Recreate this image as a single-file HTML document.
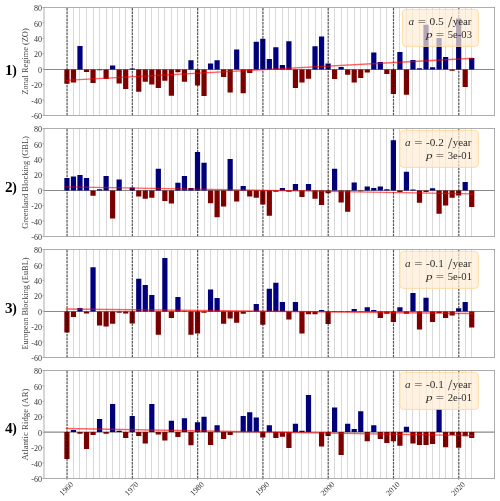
<!DOCTYPE html><html><head><meta charset="utf-8"><style>html,body{margin:0;padding:0;background:#fff;width:500px;height:501px;overflow:hidden}svg{display:block;will-change:transform}text{font-family:"Liberation Serif",serif}</style></head><body>
<svg width="500" height="501" viewBox="0 0 500 501">
<line x1="44.0" y1="69.45" x2="494.6" y2="69.45" stroke="#8a8a8a" stroke-width="1.1"/>
<path d="M77.38 46.10h5.22V69.45h-5.22ZM110.02 65.50h5.22V69.45h-5.22ZM129.61 68.45h5.22V69.45h-5.22ZM188.37 60.30h5.22V69.45h-5.22ZM207.96 63.40h5.22V69.45h-5.22ZM214.49 60.30h5.22V69.45h-5.22ZM234.07 49.40h5.22V69.45h-5.22ZM253.66 41.80h5.22V69.45h-5.22ZM260.19 38.80h5.22V69.45h-5.22ZM266.72 58.90h5.22V69.45h-5.22ZM273.25 47.20h5.22V69.45h-5.22ZM279.78 65.00h5.22V69.45h-5.22ZM286.30 41.30h5.22V69.45h-5.22ZM312.42 46.30h5.22V69.45h-5.22ZM318.95 36.40h5.22V69.45h-5.22ZM325.48 63.40h5.22V69.45h-5.22ZM338.54 67.00h5.22V69.45h-5.22ZM371.18 52.60h5.22V69.45h-5.22ZM377.71 61.90h5.22V69.45h-5.22ZM397.30 51.90h5.22V69.45h-5.22ZM410.36 60.10h5.22V69.45h-5.22ZM416.88 68.35h5.22V69.45h-5.22ZM423.41 24.80h5.22V69.45h-5.22ZM429.94 67.30h5.22V69.45h-5.22ZM436.47 38.10h5.22V69.45h-5.22ZM443.00 57.10h5.22V69.45h-5.22ZM456.06 18.60h5.22V69.45h-5.22ZM469.12 57.90h5.22V69.45h-5.22Z" fill="#000080"/>
<path d="M64.32 69.45h5.22V83.80h-5.22ZM70.85 69.45h5.22V82.40h-5.22ZM83.91 69.45h5.22V72.10h-5.22ZM90.43 69.45h5.22V82.90h-5.22ZM96.96 69.45h5.22V70.15h-5.22ZM103.49 69.45h5.22V79.00h-5.22ZM116.55 69.45h5.22V83.60h-5.22ZM123.08 69.45h5.22V89.10h-5.22ZM136.14 69.45h5.22V91.70h-5.22ZM142.67 69.45h5.22V81.70h-5.22ZM149.20 69.45h5.22V84.50h-5.22ZM155.72 69.45h5.22V88.00h-5.22ZM162.25 69.45h5.22V80.80h-5.22ZM168.78 69.45h5.22V95.70h-5.22ZM175.31 69.45h5.22V72.30h-5.22ZM181.84 69.45h5.22V81.70h-5.22ZM194.90 69.45h5.22V85.40h-5.22ZM201.43 69.45h5.22V96.00h-5.22ZM221.01 69.45h5.22V77.00h-5.22ZM227.54 69.45h5.22V92.40h-5.22ZM240.60 69.45h5.22V93.20h-5.22ZM247.13 69.45h5.22V72.90h-5.22ZM292.83 69.45h5.22V88.10h-5.22ZM299.36 69.45h5.22V82.60h-5.22ZM305.89 69.45h5.22V78.80h-5.22ZM332.01 69.45h5.22V79.10h-5.22ZM345.07 69.45h5.22V74.80h-5.22ZM351.59 69.45h5.22V82.60h-5.22ZM358.12 69.45h5.22V78.10h-5.22ZM364.65 69.45h5.22V72.50h-5.22ZM384.24 69.45h5.22V73.90h-5.22ZM390.77 69.45h5.22V93.90h-5.22ZM403.83 69.45h5.22V94.80h-5.22ZM449.53 69.45h5.22V70.80h-5.22ZM462.59 69.45h5.22V86.90h-5.22Z" fill="#800000"/>
<path d="M73.50 7.50V115.50M79.50 7.50V115.50M86.50 7.50V115.50M93.50 7.50V115.50M99.50 7.50V115.50M106.50 7.50V115.50M112.50 7.50V115.50M119.50 7.50V115.50M125.50 7.50V115.50M138.50 7.50V115.50M145.50 7.50V115.50M151.50 7.50V115.50M158.50 7.50V115.50M164.50 7.50V115.50M171.50 7.50V115.50M177.50 7.50V115.50M184.50 7.50V115.50M190.50 7.50V115.50M204.50 7.50V115.50M210.50 7.50V115.50M217.50 7.50V115.50M223.50 7.50V115.50M230.50 7.50V115.50M236.50 7.50V115.50M243.50 7.50V115.50M249.50 7.50V115.50M256.50 7.50V115.50M269.50 7.50V115.50M275.50 7.50V115.50M282.50 7.50V115.50M288.50 7.50V115.50M295.50 7.50V115.50M301.50 7.50V115.50M308.50 7.50V115.50M315.50 7.50V115.50M321.50 7.50V115.50M334.50 7.50V115.50M341.50 7.50V115.50M347.50 7.50V115.50M354.50 7.50V115.50M360.50 7.50V115.50M367.50 7.50V115.50M373.50 7.50V115.50M380.50 7.50V115.50M386.50 7.50V115.50M399.50 7.50V115.50M406.50 7.50V115.50M412.50 7.50V115.50M419.50 7.50V115.50M426.50 7.50V115.50M432.50 7.50V115.50M439.50 7.50V115.50M445.50 7.50V115.50M452.50 7.50V115.50M465.50 7.50V115.50M471.50 7.50V115.50" stroke="#000" stroke-opacity="0.15" stroke-width="1" fill="none"/>
<path d="M67.05 115.50V7.50M132.34 115.50V7.50M197.63 115.50V7.50M262.92 115.50V7.50M328.21 115.50V7.50M393.50 115.50V7.50M458.79 115.50V7.50" stroke="#000" stroke-opacity="0.12" stroke-width="1.1" fill="none"/>
<path d="M67.05 115.50V7.50M132.34 115.50V7.50M197.63 115.50V7.50M262.92 115.50V7.50M328.21 115.50V7.50M393.50 115.50V7.50M458.79 115.50V7.50" stroke="#000" stroke-opacity="0.62" stroke-width="1.2" stroke-dasharray="2.45 1.05" fill="none"/>
<line x1="65.63" y1="80.37" x2="473.03" y2="58.23" stroke="#ff0000" stroke-opacity="0.62" stroke-width="1.35"/>
<rect x="44.0" y="7.5" width="450.60" height="108.0" fill="none" stroke="#999" stroke-width="0.8"/>
<line x1="42.5" y1="7.50" x2="44.0" y2="7.50" stroke="#999" stroke-width="0.8"/>
<text x="41.9" y="11.10" font-size="8" fill="#333" text-anchor="end">80</text>
<line x1="42.5" y1="22.93" x2="44.0" y2="22.93" stroke="#999" stroke-width="0.8"/>
<text x="41.9" y="26.53" font-size="8" fill="#333" text-anchor="end">60</text>
<line x1="42.5" y1="38.36" x2="44.0" y2="38.36" stroke="#999" stroke-width="0.8"/>
<text x="41.9" y="41.96" font-size="8" fill="#333" text-anchor="end">40</text>
<line x1="42.5" y1="53.79" x2="44.0" y2="53.79" stroke="#999" stroke-width="0.8"/>
<text x="41.9" y="57.39" font-size="8" fill="#333" text-anchor="end">20</text>
<line x1="42.5" y1="69.21" x2="44.0" y2="69.21" stroke="#999" stroke-width="0.8"/>
<text x="41.9" y="72.81" font-size="8" fill="#333" text-anchor="end">0</text>
<line x1="42.5" y1="84.64" x2="44.0" y2="84.64" stroke="#999" stroke-width="0.8"/>
<text x="41.9" y="88.24" font-size="8" fill="#333" text-anchor="end">-20</text>
<line x1="42.5" y1="100.07" x2="44.0" y2="100.07" stroke="#999" stroke-width="0.8"/>
<text x="41.9" y="103.67" font-size="8" fill="#333" text-anchor="end">-40</text>
<line x1="42.5" y1="115.50" x2="44.0" y2="115.50" stroke="#999" stroke-width="0.8"/>
<text x="41.9" y="119.10" font-size="8" fill="#333" text-anchor="end">-60</text>
<text transform="translate(28.4 61.50) rotate(-90)" font-size="8.4" fill="#444" text-anchor="middle" textLength="66.3" lengthAdjust="spacingAndGlyphs">Zonal Regime (ZO)</text>
<text x="5.0" y="75.00" font-size="13.6" font-weight="bold" fill="#000" transform="translate(5 0) scale(1.12 1) translate(-5 0)">1</text>
<text x="12.2" y="75.00" font-size="13.6" font-weight="bold" fill="#000">)</text>
<rect x="402.4" y="9.40" width="76.00" height="37" rx="3.6" ry="3.6" fill="rgb(255,236,211)" fill-opacity="0.7" stroke="rgb(255,214,150)" stroke-opacity="0.8" stroke-width="1"/>
<text x="408.40" y="25.10" font-size="10.8" fill="#2e2e2e" font-style="italic" textLength="5.6" lengthAdjust="spacingAndGlyphs">a</text>
<text x="417.80" y="25.10" font-size="10.8" fill="#2e2e2e" textLength="8.3" lengthAdjust="spacingAndGlyphs">=</text>
<text x="429.50" y="25.10" font-size="10.8" fill="#2e2e2e" textLength="14.3" lengthAdjust="spacingAndGlyphs">0.5</text>
<text x="452.70" y="25.10" font-size="10.8" fill="#2e2e2e" textLength="18.8" lengthAdjust="spacingAndGlyphs">year</text>
<text x="425.90" y="37.80" font-size="10.8" fill="#2e2e2e" font-style="italic" textLength="6.6" lengthAdjust="spacingAndGlyphs">p</text>
<text x="435.80" y="37.80" font-size="10.8" fill="#2e2e2e" textLength="8.3" lengthAdjust="spacingAndGlyphs">=</text>
<text x="447.80" y="37.80" font-size="10.8" fill="#2e2e2e" textLength="24.2" lengthAdjust="spacingAndGlyphs">5e-03</text>
<path d="M448.35 27.40L451.75 16.80" stroke="#333" stroke-width="0.8" fill="none"/>
<line x1="44.0" y1="190.45" x2="494.6" y2="190.45" stroke="#8a8a8a" stroke-width="1.1"/>
<path d="M64.32 178.10h5.22V190.45h-5.22ZM70.85 176.60h5.22V190.45h-5.22ZM77.38 175.00h5.22V190.45h-5.22ZM83.91 178.10h5.22V190.45h-5.22ZM96.96 189.15h5.22V190.45h-5.22ZM103.49 175.90h5.22V190.45h-5.22ZM116.55 179.50h5.22V190.45h-5.22ZM123.08 190.45h5.22V190.45h-5.22ZM129.61 187.60h5.22V190.45h-5.22ZM155.72 168.70h5.22V190.45h-5.22ZM175.31 182.70h5.22V190.45h-5.22ZM181.84 175.90h5.22V190.45h-5.22ZM188.37 188.10h5.22V190.45h-5.22ZM194.90 152.00h5.22V190.45h-5.22ZM201.43 162.80h5.22V190.45h-5.22ZM227.54 158.90h5.22V190.45h-5.22ZM240.60 186.00h5.22V190.45h-5.22ZM279.78 187.90h5.22V190.45h-5.22ZM292.83 184.00h5.22V190.45h-5.22ZM305.89 184.00h5.22V190.45h-5.22ZM332.01 168.70h5.22V190.45h-5.22ZM351.59 182.60h5.22V190.45h-5.22ZM364.65 186.50h5.22V190.45h-5.22ZM371.18 187.90h5.22V190.45h-5.22ZM377.71 186.50h5.22V190.45h-5.22ZM384.24 189.15h5.22V190.45h-5.22ZM390.77 140.20h5.22V190.45h-5.22ZM403.83 171.80h5.22V190.45h-5.22ZM410.36 189.55h5.22V190.45h-5.22ZM429.94 188.30h5.22V190.45h-5.22ZM462.59 182.10h5.22V190.45h-5.22Z" fill="#000080"/>
<path d="M90.43 190.45h5.22V195.70h-5.22ZM110.02 190.45h5.22V218.60h-5.22ZM136.14 190.45h5.22V196.40h-5.22ZM142.67 190.45h5.22V198.70h-5.22ZM149.20 190.45h5.22V197.80h-5.22ZM162.25 190.45h5.22V200.90h-5.22ZM168.78 190.45h5.22V203.40h-5.22ZM207.96 190.45h5.22V203.20h-5.22ZM214.49 190.45h5.22V217.20h-5.22ZM221.01 190.45h5.22V206.40h-5.22ZM234.07 190.45h5.22V201.60h-5.22ZM247.13 190.45h5.22V196.60h-5.22ZM253.66 190.45h5.22V197.80h-5.22ZM260.19 190.45h5.22V204.60h-5.22ZM266.72 190.45h5.22V215.80h-5.22ZM273.25 190.45h5.22V191.85h-5.22ZM286.30 190.45h5.22V191.85h-5.22ZM299.36 190.45h5.22V197.10h-5.22ZM312.42 190.45h5.22V198.70h-5.22ZM318.95 190.45h5.22V205.00h-5.22ZM325.48 190.45h5.22V193.20h-5.22ZM338.54 190.45h5.22V202.50h-5.22ZM345.07 190.45h5.22V211.80h-5.22ZM358.12 190.45h5.22V191.35h-5.22ZM397.30 190.45h5.22V191.90h-5.22ZM416.88 190.45h5.22V202.70h-5.22ZM423.41 190.45h5.22V191.90h-5.22ZM436.47 190.45h5.22V213.80h-5.22ZM443.00 190.45h5.22V205.50h-5.22ZM449.53 190.45h5.22V197.80h-5.22ZM456.06 190.45h5.22V195.50h-5.22ZM469.12 190.45h5.22V206.90h-5.22Z" fill="#800000"/>
<path d="M73.50 128.50V236.50M79.50 128.50V236.50M86.50 128.50V236.50M93.50 128.50V236.50M99.50 128.50V236.50M106.50 128.50V236.50M112.50 128.50V236.50M119.50 128.50V236.50M125.50 128.50V236.50M138.50 128.50V236.50M145.50 128.50V236.50M151.50 128.50V236.50M158.50 128.50V236.50M164.50 128.50V236.50M171.50 128.50V236.50M177.50 128.50V236.50M184.50 128.50V236.50M190.50 128.50V236.50M204.50 128.50V236.50M210.50 128.50V236.50M217.50 128.50V236.50M223.50 128.50V236.50M230.50 128.50V236.50M236.50 128.50V236.50M243.50 128.50V236.50M249.50 128.50V236.50M256.50 128.50V236.50M269.50 128.50V236.50M275.50 128.50V236.50M282.50 128.50V236.50M288.50 128.50V236.50M295.50 128.50V236.50M301.50 128.50V236.50M308.50 128.50V236.50M315.50 128.50V236.50M321.50 128.50V236.50M334.50 128.50V236.50M341.50 128.50V236.50M347.50 128.50V236.50M354.50 128.50V236.50M360.50 128.50V236.50M367.50 128.50V236.50M373.50 128.50V236.50M380.50 128.50V236.50M386.50 128.50V236.50M399.50 128.50V236.50M406.50 128.50V236.50M412.50 128.50V236.50M419.50 128.50V236.50M426.50 128.50V236.50M432.50 128.50V236.50M439.50 128.50V236.50M445.50 128.50V236.50M452.50 128.50V236.50M465.50 128.50V236.50M471.50 128.50V236.50" stroke="#000" stroke-opacity="0.15" stroke-width="1" fill="none"/>
<path d="M67.05 236.50V128.50M132.34 236.50V128.50M197.63 236.50V128.50M262.92 236.50V128.50M328.21 236.50V128.50M393.50 236.50V128.50M458.79 236.50V128.50" stroke="#000" stroke-opacity="0.12" stroke-width="1.1" fill="none"/>
<path d="M67.05 236.50V128.50M132.34 236.50V128.50M197.63 236.50V128.50M262.92 236.50V128.50M328.21 236.50V128.50M393.50 236.50V128.50M458.79 236.50V128.50" stroke="#000" stroke-opacity="0.62" stroke-width="1.2" stroke-dasharray="2.45 1.05" fill="none"/>
<line x1="65.63" y1="186.93" x2="473.03" y2="193.82" stroke="#ff0000" stroke-opacity="0.62" stroke-width="1.35"/>
<rect x="44.0" y="128.5" width="450.60" height="108.0" fill="none" stroke="#999" stroke-width="0.8"/>
<line x1="42.5" y1="128.50" x2="44.0" y2="128.50" stroke="#999" stroke-width="0.8"/>
<text x="41.9" y="132.10" font-size="8" fill="#333" text-anchor="end">80</text>
<line x1="42.5" y1="143.93" x2="44.0" y2="143.93" stroke="#999" stroke-width="0.8"/>
<text x="41.9" y="147.53" font-size="8" fill="#333" text-anchor="end">60</text>
<line x1="42.5" y1="159.36" x2="44.0" y2="159.36" stroke="#999" stroke-width="0.8"/>
<text x="41.9" y="162.96" font-size="8" fill="#333" text-anchor="end">40</text>
<line x1="42.5" y1="174.79" x2="44.0" y2="174.79" stroke="#999" stroke-width="0.8"/>
<text x="41.9" y="178.39" font-size="8" fill="#333" text-anchor="end">20</text>
<line x1="42.5" y1="190.21" x2="44.0" y2="190.21" stroke="#999" stroke-width="0.8"/>
<text x="41.9" y="193.81" font-size="8" fill="#333" text-anchor="end">0</text>
<line x1="42.5" y1="205.64" x2="44.0" y2="205.64" stroke="#999" stroke-width="0.8"/>
<text x="41.9" y="209.24" font-size="8" fill="#333" text-anchor="end">-20</text>
<line x1="42.5" y1="221.07" x2="44.0" y2="221.07" stroke="#999" stroke-width="0.8"/>
<text x="41.9" y="224.67" font-size="8" fill="#333" text-anchor="end">-40</text>
<line x1="42.5" y1="236.50" x2="44.0" y2="236.50" stroke="#999" stroke-width="0.8"/>
<text x="41.9" y="240.10" font-size="8" fill="#333" text-anchor="end">-60</text>
<text transform="translate(28.4 182.50) rotate(-90)" font-size="8.4" fill="#444" text-anchor="middle" textLength="92.7" lengthAdjust="spacingAndGlyphs">Greenland Blocking (GBL)</text>
<text x="5.0" y="191.80" font-size="13.6" font-weight="bold" fill="#000" transform="translate(5 0) scale(1.12 1) translate(-5 0)">2</text>
<text x="12.2" y="191.80" font-size="13.6" font-weight="bold" fill="#000">)</text>
<rect x="399.9" y="130.40" width="78.50" height="37" rx="3.6" ry="3.6" fill="rgb(255,236,211)" fill-opacity="0.7" stroke="rgb(255,214,150)" stroke-opacity="0.8" stroke-width="1"/>
<text x="404.90" y="146.10" font-size="10.8" fill="#2e2e2e" font-style="italic" textLength="5.6" lengthAdjust="spacingAndGlyphs">a</text>
<text x="414.30" y="146.10" font-size="10.8" fill="#2e2e2e" textLength="8.3" lengthAdjust="spacingAndGlyphs">=</text>
<text x="426.00" y="146.10" font-size="10.8" fill="#2e2e2e" textLength="17.8" lengthAdjust="spacingAndGlyphs">-0.2</text>
<text x="452.70" y="146.10" font-size="10.8" fill="#2e2e2e" textLength="18.8" lengthAdjust="spacingAndGlyphs">year</text>
<text x="425.90" y="158.80" font-size="10.8" fill="#2e2e2e" font-style="italic" textLength="6.6" lengthAdjust="spacingAndGlyphs">p</text>
<text x="435.80" y="158.80" font-size="10.8" fill="#2e2e2e" textLength="8.3" lengthAdjust="spacingAndGlyphs">=</text>
<text x="447.80" y="158.80" font-size="10.8" fill="#2e2e2e" textLength="24.2" lengthAdjust="spacingAndGlyphs">3e-01</text>
<path d="M448.35 148.40L451.75 137.80" stroke="#333" stroke-width="0.8" fill="none"/>
<line x1="44.0" y1="311.45" x2="494.6" y2="311.45" stroke="#8a8a8a" stroke-width="1.1"/>
<path d="M77.38 308.00h5.22V311.45h-5.22ZM90.43 267.30h5.22V311.45h-5.22ZM136.14 278.80h5.22V311.45h-5.22ZM142.67 285.10h5.22V311.45h-5.22ZM149.20 294.90h5.22V311.45h-5.22ZM162.25 258.10h5.22V311.45h-5.22ZM175.31 297.10h5.22V311.45h-5.22ZM207.96 289.60h5.22V311.45h-5.22ZM214.49 298.00h5.22V311.45h-5.22ZM253.66 303.90h5.22V311.45h-5.22ZM266.72 288.80h5.22V311.45h-5.22ZM273.25 282.70h5.22V311.45h-5.22ZM279.78 301.90h5.22V311.45h-5.22ZM292.83 301.90h5.22V311.45h-5.22ZM318.95 310.05h5.22V311.45h-5.22ZM351.59 308.90h5.22V311.45h-5.22ZM364.65 307.20h5.22V311.45h-5.22ZM371.18 310.05h5.22V311.45h-5.22ZM397.30 307.20h5.22V311.45h-5.22ZM410.36 293.10h5.22V311.45h-5.22ZM423.41 297.80h5.22V311.45h-5.22ZM456.06 308.30h5.22V311.45h-5.22ZM462.59 302.10h5.22V311.45h-5.22Z" fill="#000080"/>
<path d="M64.32 311.45h5.22V332.60h-5.22ZM70.85 311.45h5.22V317.00h-5.22ZM83.91 311.45h5.22V313.40h-5.22ZM96.96 311.45h5.22V325.60h-5.22ZM103.49 311.45h5.22V326.50h-5.22ZM110.02 311.45h5.22V323.80h-5.22ZM116.55 311.45h5.22V312.85h-5.22ZM123.08 311.45h5.22V313.40h-5.22ZM129.61 311.45h5.22V323.40h-5.22ZM155.72 311.45h5.22V334.80h-5.22ZM168.78 311.45h5.22V317.90h-5.22ZM181.84 311.45h5.22V311.95h-5.22ZM188.37 311.45h5.22V334.80h-5.22ZM194.90 311.45h5.22V333.50h-5.22ZM201.43 311.45h5.22V312.85h-5.22ZM221.01 311.45h5.22V323.80h-5.22ZM227.54 311.45h5.22V318.60h-5.22ZM234.07 311.45h5.22V322.80h-5.22ZM240.60 311.45h5.22V313.80h-5.22ZM247.13 311.45h5.22V311.95h-5.22ZM260.19 311.45h5.22V324.70h-5.22ZM286.30 311.45h5.22V319.50h-5.22ZM299.36 311.45h5.22V333.50h-5.22ZM305.89 311.45h5.22V314.20h-5.22ZM312.42 311.45h5.22V314.20h-5.22ZM325.48 311.45h5.22V324.00h-5.22ZM332.01 311.45h5.22V311.95h-5.22ZM338.54 311.45h5.22V311.95h-5.22ZM345.07 311.45h5.22V311.95h-5.22ZM358.12 311.45h5.22V311.75h-5.22ZM377.71 311.45h5.22V317.90h-5.22ZM384.24 311.45h5.22V313.80h-5.22ZM390.77 311.45h5.22V321.90h-5.22ZM403.83 311.45h5.22V313.80h-5.22ZM416.88 311.45h5.22V329.40h-5.22ZM429.94 311.45h5.22V321.90h-5.22ZM436.47 311.45h5.22V312.90h-5.22ZM443.00 311.45h5.22V317.90h-5.22ZM449.53 311.45h5.22V315.60h-5.22ZM469.12 311.45h5.22V327.50h-5.22Z" fill="#800000"/>
<path d="M73.50 249.50V357.50M79.50 249.50V357.50M86.50 249.50V357.50M93.50 249.50V357.50M99.50 249.50V357.50M106.50 249.50V357.50M112.50 249.50V357.50M119.50 249.50V357.50M125.50 249.50V357.50M138.50 249.50V357.50M145.50 249.50V357.50M151.50 249.50V357.50M158.50 249.50V357.50M164.50 249.50V357.50M171.50 249.50V357.50M177.50 249.50V357.50M184.50 249.50V357.50M190.50 249.50V357.50M204.50 249.50V357.50M210.50 249.50V357.50M217.50 249.50V357.50M223.50 249.50V357.50M230.50 249.50V357.50M236.50 249.50V357.50M243.50 249.50V357.50M249.50 249.50V357.50M256.50 249.50V357.50M269.50 249.50V357.50M275.50 249.50V357.50M282.50 249.50V357.50M288.50 249.50V357.50M295.50 249.50V357.50M301.50 249.50V357.50M308.50 249.50V357.50M315.50 249.50V357.50M321.50 249.50V357.50M334.50 249.50V357.50M341.50 249.50V357.50M347.50 249.50V357.50M354.50 249.50V357.50M360.50 249.50V357.50M367.50 249.50V357.50M373.50 249.50V357.50M380.50 249.50V357.50M386.50 249.50V357.50M399.50 249.50V357.50M406.50 249.50V357.50M412.50 249.50V357.50M419.50 249.50V357.50M426.50 249.50V357.50M432.50 249.50V357.50M439.50 249.50V357.50M445.50 249.50V357.50M452.50 249.50V357.50M465.50 249.50V357.50M471.50 249.50V357.50" stroke="#000" stroke-opacity="0.15" stroke-width="1" fill="none"/>
<path d="M67.05 357.50V249.50M132.34 357.50V249.50M197.63 357.50V249.50M262.92 357.50V249.50M328.21 357.50V249.50M393.50 357.50V249.50M458.79 357.50V249.50" stroke="#000" stroke-opacity="0.12" stroke-width="1.1" fill="none"/>
<path d="M67.05 357.50V249.50M132.34 357.50V249.50M197.63 357.50V249.50M262.92 357.50V249.50M328.21 357.50V249.50M393.50 357.50V249.50M458.79 357.50V249.50" stroke="#000" stroke-opacity="0.62" stroke-width="1.2" stroke-dasharray="2.45 1.05" fill="none"/>
<line x1="65.63" y1="308.99" x2="473.03" y2="313.51" stroke="#ff0000" stroke-opacity="0.62" stroke-width="1.35"/>
<rect x="44.0" y="249.5" width="450.60" height="108.0" fill="none" stroke="#999" stroke-width="0.8"/>
<line x1="42.5" y1="249.50" x2="44.0" y2="249.50" stroke="#999" stroke-width="0.8"/>
<text x="41.9" y="253.10" font-size="8" fill="#333" text-anchor="end">80</text>
<line x1="42.5" y1="264.93" x2="44.0" y2="264.93" stroke="#999" stroke-width="0.8"/>
<text x="41.9" y="268.53" font-size="8" fill="#333" text-anchor="end">60</text>
<line x1="42.5" y1="280.36" x2="44.0" y2="280.36" stroke="#999" stroke-width="0.8"/>
<text x="41.9" y="283.96" font-size="8" fill="#333" text-anchor="end">40</text>
<line x1="42.5" y1="295.79" x2="44.0" y2="295.79" stroke="#999" stroke-width="0.8"/>
<text x="41.9" y="299.39" font-size="8" fill="#333" text-anchor="end">20</text>
<line x1="42.5" y1="311.21" x2="44.0" y2="311.21" stroke="#999" stroke-width="0.8"/>
<text x="41.9" y="314.81" font-size="8" fill="#333" text-anchor="end">0</text>
<line x1="42.5" y1="326.64" x2="44.0" y2="326.64" stroke="#999" stroke-width="0.8"/>
<text x="41.9" y="330.24" font-size="8" fill="#333" text-anchor="end">-20</text>
<line x1="42.5" y1="342.07" x2="44.0" y2="342.07" stroke="#999" stroke-width="0.8"/>
<text x="41.9" y="345.67" font-size="8" fill="#333" text-anchor="end">-40</text>
<line x1="42.5" y1="357.50" x2="44.0" y2="357.50" stroke="#999" stroke-width="0.8"/>
<text x="41.9" y="361.10" font-size="8" fill="#333" text-anchor="end">-60</text>
<text transform="translate(28.4 303.50) rotate(-90)" font-size="8.4" fill="#444" text-anchor="middle" textLength="92.0" lengthAdjust="spacingAndGlyphs">European Blocking (EuBL)</text>
<text x="5.0" y="312.60" font-size="13.6" font-weight="bold" fill="#000" transform="translate(5 0) scale(1.12 1) translate(-5 0)">3</text>
<text x="12.2" y="312.60" font-size="13.6" font-weight="bold" fill="#000">)</text>
<rect x="399.9" y="251.40" width="78.50" height="37" rx="3.6" ry="3.6" fill="rgb(255,236,211)" fill-opacity="0.7" stroke="rgb(255,214,150)" stroke-opacity="0.8" stroke-width="1"/>
<text x="404.90" y="267.10" font-size="10.8" fill="#2e2e2e" font-style="italic" textLength="5.6" lengthAdjust="spacingAndGlyphs">a</text>
<text x="414.30" y="267.10" font-size="10.8" fill="#2e2e2e" textLength="8.3" lengthAdjust="spacingAndGlyphs">=</text>
<text x="426.00" y="267.10" font-size="10.8" fill="#2e2e2e" textLength="17.8" lengthAdjust="spacingAndGlyphs">-0.1</text>
<text x="452.70" y="267.10" font-size="10.8" fill="#2e2e2e" textLength="18.8" lengthAdjust="spacingAndGlyphs">year</text>
<text x="425.90" y="279.80" font-size="10.8" fill="#2e2e2e" font-style="italic" textLength="6.6" lengthAdjust="spacingAndGlyphs">p</text>
<text x="435.80" y="279.80" font-size="10.8" fill="#2e2e2e" textLength="8.3" lengthAdjust="spacingAndGlyphs">=</text>
<text x="447.80" y="279.80" font-size="10.8" fill="#2e2e2e" textLength="24.2" lengthAdjust="spacingAndGlyphs">5e-01</text>
<path d="M448.35 269.40L451.75 258.80" stroke="#333" stroke-width="0.8" fill="none"/>
<line x1="44.0" y1="432.10" x2="494.6" y2="432.10" stroke="#8a8a8a" stroke-width="1.1"/>
<path d="M70.85 430.10h5.22V432.10h-5.22ZM96.96 419.00h5.22V432.10h-5.22ZM110.02 404.10h5.22V432.10h-5.22ZM116.55 430.80h5.22V432.10h-5.22ZM129.61 416.10h5.22V432.10h-5.22ZM149.20 403.90h5.22V432.10h-5.22ZM168.78 420.80h5.22V432.10h-5.22ZM181.84 418.30h5.22V432.10h-5.22ZM194.90 422.20h5.22V432.10h-5.22ZM201.43 416.80h5.22V432.10h-5.22ZM214.49 425.30h5.22V432.10h-5.22ZM234.07 432.10h5.22V432.10h-5.22ZM240.60 416.10h5.22V432.10h-5.22ZM247.13 412.20h5.22V432.10h-5.22ZM253.66 417.40h5.22V432.10h-5.22ZM266.72 425.30h5.22V432.10h-5.22ZM292.83 423.70h5.22V432.10h-5.22ZM299.36 430.70h5.22V432.10h-5.22ZM305.89 395.10h5.22V432.10h-5.22ZM312.42 432.10h5.22V432.10h-5.22ZM332.01 407.50h5.22V432.10h-5.22ZM345.07 423.70h5.22V432.10h-5.22ZM351.59 429.00h5.22V432.10h-5.22ZM358.12 411.30h5.22V432.10h-5.22ZM371.18 425.30h5.22V432.10h-5.22ZM403.83 426.70h5.22V432.10h-5.22ZM436.47 408.90h5.22V432.10h-5.22Z" fill="#000080"/>
<path d="M64.32 432.10h5.22V458.90h-5.22ZM77.38 432.10h5.22V433.70h-5.22ZM83.91 432.10h5.22V449.00h-5.22ZM90.43 432.10h5.22V435.00h-5.22ZM103.49 432.10h5.22V433.70h-5.22ZM123.08 432.10h5.22V438.00h-5.22ZM136.14 432.10h5.22V435.90h-5.22ZM142.67 432.10h5.22V443.60h-5.22ZM155.72 432.10h5.22V434.40h-5.22ZM162.25 432.10h5.22V440.50h-5.22ZM175.31 432.10h5.22V436.90h-5.22ZM188.37 432.10h5.22V445.20h-5.22ZM207.96 432.10h5.22V445.00h-5.22ZM221.01 432.10h5.22V438.90h-5.22ZM227.54 432.10h5.22V435.00h-5.22ZM260.19 432.10h5.22V437.50h-5.22ZM273.25 432.10h5.22V438.00h-5.22ZM279.78 432.10h5.22V436.80h-5.22ZM286.30 432.10h5.22V448.10h-5.22ZM318.95 432.10h5.22V446.60h-5.22ZM325.48 432.10h5.22V435.90h-5.22ZM338.54 432.10h5.22V455.10h-5.22ZM364.65 432.10h5.22V441.30h-5.22ZM377.71 432.10h5.22V438.90h-5.22ZM384.24 432.10h5.22V443.10h-5.22ZM390.77 432.10h5.22V441.30h-5.22ZM397.30 432.10h5.22V445.70h-5.22ZM410.36 432.10h5.22V443.60h-5.22ZM416.88 432.10h5.22V445.00h-5.22ZM423.41 432.10h5.22V445.00h-5.22ZM429.94 432.10h5.22V443.90h-5.22ZM443.00 432.10h5.22V447.30h-5.22ZM449.53 432.10h5.22V434.90h-5.22ZM456.06 432.10h5.22V447.70h-5.22ZM462.59 432.10h5.22V436.30h-5.22ZM469.12 432.10h5.22V437.90h-5.22Z" fill="#800000"/>
<path d="M73.50 370.50V478.50M79.50 370.50V478.50M86.50 370.50V478.50M93.50 370.50V478.50M99.50 370.50V478.50M106.50 370.50V478.50M112.50 370.50V478.50M119.50 370.50V478.50M125.50 370.50V478.50M138.50 370.50V478.50M145.50 370.50V478.50M151.50 370.50V478.50M158.50 370.50V478.50M164.50 370.50V478.50M171.50 370.50V478.50M177.50 370.50V478.50M184.50 370.50V478.50M190.50 370.50V478.50M204.50 370.50V478.50M210.50 370.50V478.50M217.50 370.50V478.50M223.50 370.50V478.50M230.50 370.50V478.50M236.50 370.50V478.50M243.50 370.50V478.50M249.50 370.50V478.50M256.50 370.50V478.50M269.50 370.50V478.50M275.50 370.50V478.50M282.50 370.50V478.50M288.50 370.50V478.50M295.50 370.50V478.50M301.50 370.50V478.50M308.50 370.50V478.50M315.50 370.50V478.50M321.50 370.50V478.50M334.50 370.50V478.50M341.50 370.50V478.50M347.50 370.50V478.50M354.50 370.50V478.50M360.50 370.50V478.50M367.50 370.50V478.50M373.50 370.50V478.50M380.50 370.50V478.50M386.50 370.50V478.50M399.50 370.50V478.50M406.50 370.50V478.50M412.50 370.50V478.50M419.50 370.50V478.50M426.50 370.50V478.50M432.50 370.50V478.50M439.50 370.50V478.50M445.50 370.50V478.50M452.50 370.50V478.50M465.50 370.50V478.50M471.50 370.50V478.50" stroke="#000" stroke-opacity="0.15" stroke-width="1" fill="none"/>
<path d="M67.05 478.50V370.50M132.34 478.50V370.50M197.63 478.50V370.50M262.92 478.50V370.50M328.21 478.50V370.50M393.50 478.50V370.50M458.79 478.50V370.50" stroke="#000" stroke-opacity="0.12" stroke-width="1.1" fill="none"/>
<path d="M67.05 478.50V370.50M132.34 478.50V370.50M197.63 478.50V370.50M262.92 478.50V370.50M328.21 478.50V370.50M393.50 478.50V370.50M458.79 478.50V370.50" stroke="#000" stroke-opacity="0.62" stroke-width="1.2" stroke-dasharray="2.45 1.05" fill="none"/>
<line x1="65.63" y1="428.53" x2="473.03" y2="435.65" stroke="#ff0000" stroke-opacity="0.62" stroke-width="1.35"/>
<rect x="44.0" y="370.5" width="450.60" height="108.0" fill="none" stroke="#999" stroke-width="0.8"/>
<line x1="42.5" y1="370.50" x2="44.0" y2="370.50" stroke="#999" stroke-width="0.8"/>
<text x="41.9" y="374.10" font-size="8" fill="#333" text-anchor="end">80</text>
<line x1="42.5" y1="385.93" x2="44.0" y2="385.93" stroke="#999" stroke-width="0.8"/>
<text x="41.9" y="389.53" font-size="8" fill="#333" text-anchor="end">60</text>
<line x1="42.5" y1="401.36" x2="44.0" y2="401.36" stroke="#999" stroke-width="0.8"/>
<text x="41.9" y="404.96" font-size="8" fill="#333" text-anchor="end">40</text>
<line x1="42.5" y1="416.79" x2="44.0" y2="416.79" stroke="#999" stroke-width="0.8"/>
<text x="41.9" y="420.39" font-size="8" fill="#333" text-anchor="end">20</text>
<line x1="42.5" y1="432.21" x2="44.0" y2="432.21" stroke="#999" stroke-width="0.8"/>
<text x="41.9" y="435.81" font-size="8" fill="#333" text-anchor="end">0</text>
<line x1="42.5" y1="447.64" x2="44.0" y2="447.64" stroke="#999" stroke-width="0.8"/>
<text x="41.9" y="451.24" font-size="8" fill="#333" text-anchor="end">-20</text>
<line x1="42.5" y1="463.07" x2="44.0" y2="463.07" stroke="#999" stroke-width="0.8"/>
<text x="41.9" y="466.67" font-size="8" fill="#333" text-anchor="end">-40</text>
<line x1="42.5" y1="478.50" x2="44.0" y2="478.50" stroke="#999" stroke-width="0.8"/>
<text x="41.9" y="482.10" font-size="8" fill="#333" text-anchor="end">-60</text>
<text transform="translate(28.4 424.50) rotate(-90)" font-size="8.4" fill="#444" text-anchor="middle" textLength="72.0" lengthAdjust="spacingAndGlyphs">Atlantic Ridge (AR)</text>
<text x="5.0" y="433.20" font-size="13.6" font-weight="bold" fill="#000" transform="translate(5 0) scale(1.12 1) translate(-5 0)">4</text>
<text x="12.2" y="433.20" font-size="13.6" font-weight="bold" fill="#000">)</text>
<rect x="399.9" y="372.40" width="78.50" height="37" rx="3.6" ry="3.6" fill="rgb(255,236,211)" fill-opacity="0.7" stroke="rgb(255,214,150)" stroke-opacity="0.8" stroke-width="1"/>
<text x="404.90" y="388.10" font-size="10.8" fill="#2e2e2e" font-style="italic" textLength="5.6" lengthAdjust="spacingAndGlyphs">a</text>
<text x="414.30" y="388.10" font-size="10.8" fill="#2e2e2e" textLength="8.3" lengthAdjust="spacingAndGlyphs">=</text>
<text x="426.00" y="388.10" font-size="10.8" fill="#2e2e2e" textLength="17.8" lengthAdjust="spacingAndGlyphs">-0.1</text>
<text x="452.70" y="388.10" font-size="10.8" fill="#2e2e2e" textLength="18.8" lengthAdjust="spacingAndGlyphs">year</text>
<text x="425.90" y="400.80" font-size="10.8" fill="#2e2e2e" font-style="italic" textLength="6.6" lengthAdjust="spacingAndGlyphs">p</text>
<text x="435.80" y="400.80" font-size="10.8" fill="#2e2e2e" textLength="8.3" lengthAdjust="spacingAndGlyphs">=</text>
<text x="447.80" y="400.80" font-size="10.8" fill="#2e2e2e" textLength="24.2" lengthAdjust="spacingAndGlyphs">2e-01</text>
<path d="M448.35 390.40L451.75 379.80" stroke="#333" stroke-width="0.8" fill="none"/>
<line x1="66.93" y1="478.50" x2="66.93" y2="480.00" stroke="#999" stroke-width="0.8"/>
<text transform="translate(66.33 488.60) rotate(-45)" font-size="8" fill="#333" text-anchor="middle" dy="2.7">1960</text>
<line x1="132.22" y1="478.50" x2="132.22" y2="480.00" stroke="#999" stroke-width="0.8"/>
<text transform="translate(131.62 488.60) rotate(-45)" font-size="8" fill="#333" text-anchor="middle" dy="2.7">1970</text>
<line x1="197.51" y1="478.50" x2="197.51" y2="480.00" stroke="#999" stroke-width="0.8"/>
<text transform="translate(196.91 488.60) rotate(-45)" font-size="8" fill="#333" text-anchor="middle" dy="2.7">1980</text>
<line x1="262.80" y1="478.50" x2="262.80" y2="480.00" stroke="#999" stroke-width="0.8"/>
<text transform="translate(262.20 488.60) rotate(-45)" font-size="8" fill="#333" text-anchor="middle" dy="2.7">1990</text>
<line x1="328.09" y1="478.50" x2="328.09" y2="480.00" stroke="#999" stroke-width="0.8"/>
<text transform="translate(327.49 488.60) rotate(-45)" font-size="8" fill="#333" text-anchor="middle" dy="2.7">2000</text>
<line x1="393.38" y1="478.50" x2="393.38" y2="480.00" stroke="#999" stroke-width="0.8"/>
<text transform="translate(392.78 488.60) rotate(-45)" font-size="8" fill="#333" text-anchor="middle" dy="2.7">2010</text>
<line x1="458.67" y1="478.50" x2="458.67" y2="480.00" stroke="#999" stroke-width="0.8"/>
<text transform="translate(458.07 488.60) rotate(-45)" font-size="8" fill="#333" text-anchor="middle" dy="2.7">2020</text>
</svg></body></html>
